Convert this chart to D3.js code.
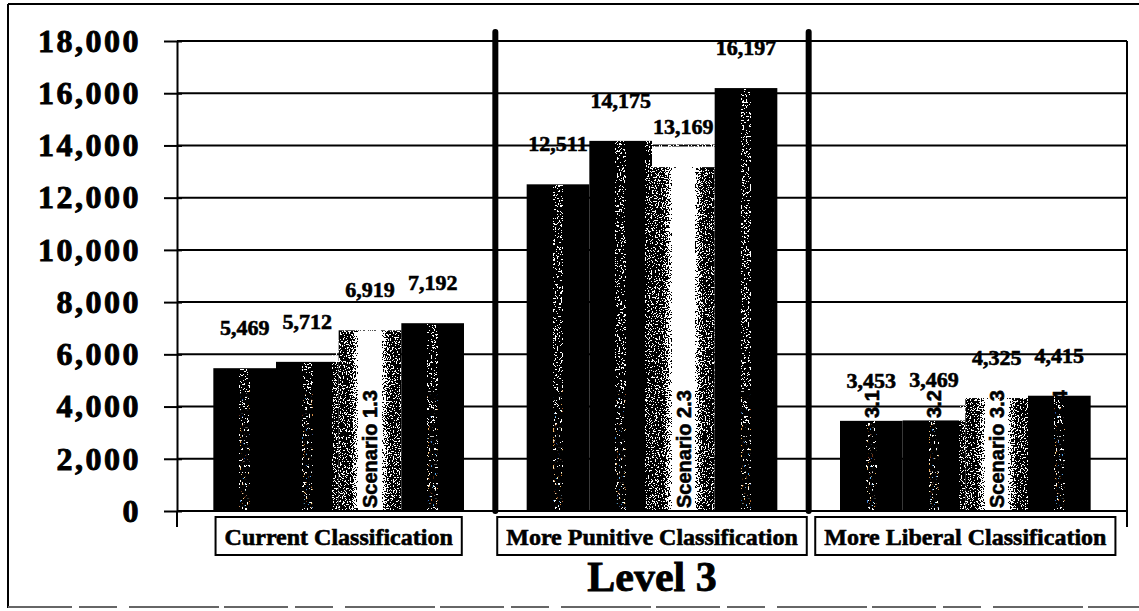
<html>
    <head>
        <title>level-3</title>
        <script src="https://d3js.org/d3.v7.min.js"></script>
        <style>
            body { margin: 0; background: #fff; }
            svg { display: block; }
        </style>
        <script>
            const groups = ["Current Classification", "More Punitive Classification", "More Liberal Classification"];
            const scenarios = [
                ["Scenario 1.1", "Scenario 1.2", "Scenario 1.3", "Scenario 1.4"],
                ["Scenario 2.1", "Scenario 2.2", "Scenario 2.3", "Scenario 2.4"],
                ["Scenario 3.1", "Scenario 3.2", "Scenario 3.3", "Scenario 3.4"]
            ];
            const values = [
                [5469, 5712, 6919, 7192],
                [12511, 14175, 13169, 16197],
                [3453, 3469, 4325, 4415]
            ];
            const yTicks = [0, 2000, 4000, 6000, 8000, 10000, 12000, 14000, 16000, 18000];
            const axisTitle = "Level 3";

            document.addEventListener('DOMContentLoaded', function(){
                const w = 1139;
                const h = 611;
                const left = 177, right = 1127, bottom = 511, top = 41;
                const serif = "'Liberation Serif', 'Times New Roman', serif";
                const sans = "'Liberation Sans', Arial, sans-serif";

                const svg = d3.select("body")
                    .append("svg")
                    .attr("width", w)
                    .attr("height", h);

                const defs = svg.append("defs");

                // cylinder-ish shading: white stripe, broken up by noise below
                function stripe(id, stops) {
                    const g = defs.append("linearGradient").attr("id", id)
                        .attr("x1", 0).attr("x2", 1).attr("y1", 0).attr("y2", 0);
                    stops.forEach(s => g.append("stop")
                        .attr("offset", s[0])
                        .attr("stop-color", "#fff")
                        .attr("stop-opacity", s[1]));
                }
                stripe("stripeDark", [[0, 0], [0.25, 0], [0.42, 0.75], [0.58, 0.75], [0.75, 0], [1, 0]]);
                stripe("stripeBright", [[0, 0], [0.18, 0], [0.32, 1], [0.68, 1], [0.82, 0], [1, 0]]);

                function speckle(id, k4, freq, seed) {
                    const f = defs.append("filter").attr("id", id)
                        .attr("color-interpolation-filters", "sRGB");
                    f.append("feTurbulence").attr("type", "fractalNoise")
                        .attr("baseFrequency", freq).attr("numOctaves", 2).attr("seed", seed)
                        .attr("result", "noise");
                    // stretch the noise so it covers roughly 0..1
                    f.append("feColorMatrix").attr("in", "noise").attr("type", "matrix")
                        .attr("values", "0 0 0 0 1  0 0 0 0 1  0 0 0 0 1  4.5 0 0 0 -1.75")
                        .attr("result", "n2");
                    f.append("feComposite").attr("in", "n2").attr("in2", "SourceGraphic")
                        .attr("operator", "arithmetic")
                        .attr("k1", 0).attr("k2", 1).attr("k3", 1).attr("k4", k4)
                        .attr("result", "sum");
                    const ct = f.append("feComponentTransfer").attr("in", "sum");
                    ct.append("feFuncA").attr("type", "discrete").attr("tableValues", "0 1");
                }
                speckle("speckleDark", -1.22, 0.55, 4);
                speckle("speckleBright", -0.45, 0.7, 9);

                const x0 = d3.scaleBand()
                    .domain(groups)
                    .range([182, 1122])
                    .padding(0);
                const x1 = d3.scaleBand()
                    .domain(d3.range(4))
                    .range([0, x0.bandwidth()])
                    .paddingInner(0)
                    .paddingOuter(0.5);
                const y = d3.scaleLinear()
                    .domain([0, 18000])
                    .range([bottom, top]);

                // outer frame (scanned page border)
                svg.append("line").attr("x1", 8).attr("x2", w).attr("y1", 4).attr("y2", 4)
                    .attr("stroke", "#000").attr("stroke-width", 2);
                svg.append("line").attr("x1", 8).attr("x2", 8).attr("y1", 4).attr("y2", 608)
                    .attr("stroke", "#000").attr("stroke-width", 2);
                svg.append("line").attr("x1", 8).attr("x2", w).attr("y1", 607).attr("y2", 607)
                    .attr("stroke", "#666").attr("stroke-width", 2)
                    .attr("stroke-dasharray", "64 7 38 12 90 5");

                // gridlines
                svg.append("g")
                    .selectAll("line")
                    .data(yTicks)
                    .join("line")
                    .attr("x1", left)
                    .attr("x2", right)
                    .attr("y1", d => y(d))
                    .attr("y2", d => y(d))
                    .attr("stroke", "#000")
                    .attr("stroke-width", 2);

                // right edge + axis extensions below zero
                svg.append("line").attr("x1", right).attr("x2", right).attr("y1", top).attr("y2", 527)
                    .attr("stroke", "#000").attr("stroke-width", 2);
                svg.append("line").attr("x1", left).attr("x2", left).attr("y1", bottom).attr("y2", 527)
                    .attr("stroke", "#000").attr("stroke-width", 2);

                // y axis
                const yAxis = d3.axisLeft(y)
                    .tickValues(yTicks)
                    .tickSize(13)
                    .tickSizeOuter(0)
                    .tickPadding(23)
                    .tickFormat(d3.format(","));
                const ya = svg.append("g")
                    .attr("id", "y-axis")
                    .attr("transform", "translate(" + left + ",0)")
                    .call(yAxis);
                ya.select(".domain").attr("stroke-width", 2);
                ya.selectAll(".tick line").attr("x2", 5).attr("x1", -13).attr("stroke-width", 2);
                ya.selectAll("text")
                    .attr("font-family", serif)
                    .attr("font-weight", "bold")
                    .attr("font-size", 32)
                    .attr("letter-spacing", 2.5)
                    .attr("fill", "#000")
                    .attr("stroke", "#000")
                    .attr("stroke-width", 0.9);

                // bars
                const gs = svg.append("g")
                    .selectAll("g")
                    .data(groups)
                    .join("g")
                    .attr("transform", d => "translate(" + x0(d) + ",0)");

                const bars = gs.selectAll("g.bar")
                    .data((g, gi) => values[gi].map((v, i) => ({v: v, i: i, name: scenarios[gi][i]})))
                    .join("g")
                    .attr("class", "bar");

                bars.append("rect")
                    .attr("x", d => x1(d.i))
                    .attr("y", d => y(d.v))
                    .attr("width", x1.bandwidth())
                    .attr("height", d => y(0) - y(d.v))
                    .attr("fill", "#000");
                bars.append("rect")
                    .attr("x", d => x1(d.i))
                    .attr("y", d => y(d.v))
                    .attr("width", x1.bandwidth())
                    .attr("height", d => y(0) - y(d.v))
                    .attr("fill", d => d.i === 2 ? "url(#stripeBright)" : "url(#stripeDark)")
                    .attr("filter", d => d.i === 2 ? "url(#speckleBright)" : "url(#speckleDark)");
                bars.append("text")
                    .attr("transform", d => "translate(" + (x1(d.i) + x1.bandwidth() / 2) + "," + (y(0) - 3) + ") rotate(-90)")
                    .attr("dy", "0.36em")
                    .attr("font-family", sans)
                    .attr("font-weight", "bold")
                    .attr("font-size", 20)
                    .attr("fill", "#000")
                    .attr("stroke", "#000")
                    .attr("stroke-width", 0.6)
                    .text(d => d.name);
                bars.append("text")
                    .attr("x", d => x1(d.i) + x1.bandwidth() / 2)
                    .attr("y", d => y(d.v) - 33)
                    .attr("text-anchor", "middle")
                    .attr("font-family", serif)
                    .attr("font-weight", "bold")
                    .attr("font-size", 22)
                    .attr("fill", "#000")
                    .attr("stroke", "#000")
                    .attr("stroke-width", 0.6)
                    .text(d => d3.format(",")(d.v));

                // x axis line
                svg.append("line").attr("x1", left).attr("x2", right).attr("y1", bottom).attr("y2", bottom)
                    .attr("stroke", "#000").attr("stroke-width", 2);

                // heavy separators between the classifications
                svg.append("g")
                    .selectAll("line")
                    .data(groups.slice(1))
                    .join("line")
                    .attr("x1", d => x0(d))
                    .attr("x2", d => x0(d))
                    .attr("y1", 32)
                    .attr("y2", bottom)
                    .attr("stroke", "#000")
                    .attr("stroke-width", 6)
                    .attr("stroke-linecap", "round");

                // category labels in boxes
                const cats = svg.append("g")
                    .selectAll("g")
                    .data(groups)
                    .join("g");
                cats.append("text")
                    .attr("x", d => x0(d) + x0.bandwidth() / 2)
                    .attr("y", 545)
                    .attr("text-anchor", "middle")
                    .attr("font-family", serif)
                    .attr("font-weight", "bold")
                    .attr("font-size", 24)
                    .attr("fill", "#000")
                    .attr("stroke", "#000")
                    .attr("stroke-width", 0.6)
                    .text(d => d);
                cats.each(function(d) {
                    const g = d3.select(this);
                    const len = g.select("text").node().getComputedTextLength();
                    const cx = x0(d) + x0.bandwidth() / 2;
                    g.insert("rect", "text")
                        .attr("x", cx - len / 2 - 9)
                        .attr("y", 517)
                        .attr("width", len + 18)
                        .attr("height", 38)
                        .attr("fill", "#fff")
                        .attr("stroke", "#000")
                        .attr("stroke-width", 2);
                });

                svg.append("text")
                    .attr("x", (left + right) / 2)
                    .attr("y", 591)
                    .attr("text-anchor", "middle")
                    .attr("font-family", serif)
                    .attr("font-weight", "bold")
                    .attr("font-size", 42)
                    .attr("fill", "#000")
                    .attr("stroke", "#000")
                    .attr("stroke-width", 0.8)
                    .text(axisTitle);
            });
        </script>
    </head>
    <body>
    </body>
</html>
